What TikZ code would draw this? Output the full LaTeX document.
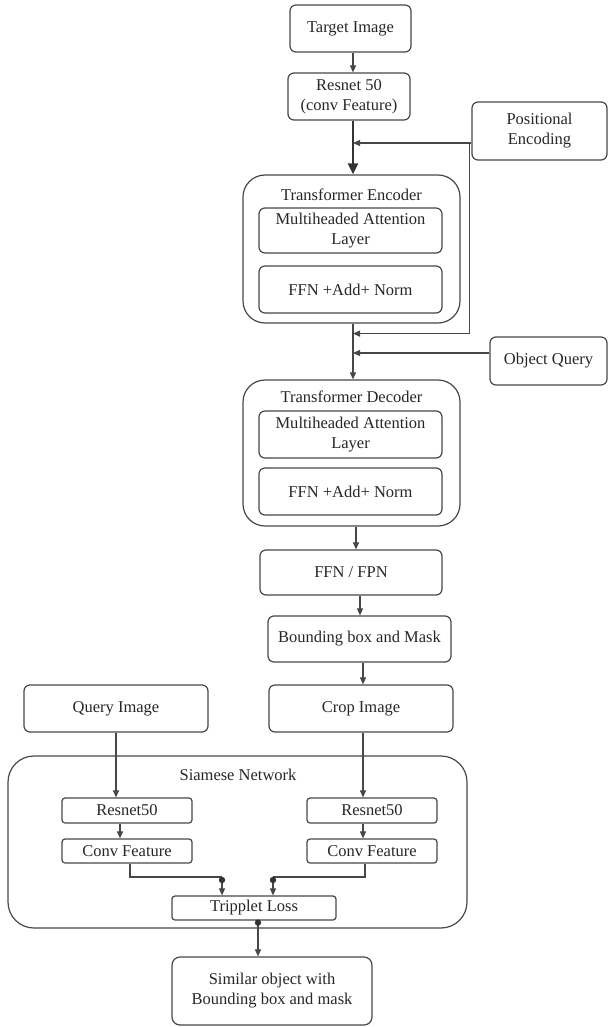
\documentclass[tikz,border=0pt]{standalone}
\usepackage{fontspec}
\setmainfont{Liberation Serif}
\usetikzlibrary{arrows.meta,calc}
\begin{document}
\begin{tikzpicture}[x=1pt,y=1pt,
  every node/.style={font=\fontsize{16.5}{20}\selectfont, text=black!85},
  box/.style={draw=black!72, line width=1.2pt, rounded corners=6pt, align=center, inner sep=0pt},
  outerbox/.style={draw=black!72, line width=1.2pt, rounded corners=22pt, inner sep=0pt},
  conn/.style={draw=black!72, line width=1.1pt},
  arr/.style={conn, -{Triangle[length=7pt,width=6pt]}},
  bigarr/.style={draw=black!80, line width=2.2pt, -{Triangle[length=11pt,width=10pt]}},
  dot/.style={fill=black!80}]
\useasboundingbox (0,0) rectangle (608,-1027);
% axis coordinates
\coordinate (ax) at (353,0);
\coordinate (a2) at (356,0);
\coordinate (a3) at (360,0);
\coordinate (a4) at (363,0);
\coordinate (b1) at (120,0);
% top chain
\node[box, minimum width=121, minimum height=47] (ti) at (350.5,-28.5) {Target Image};
\node[box, minimum width=122, minimum height=47] (rn) at (349,-96.5) {Resnet 50\\(conv Feature)};
\node[box, minimum width=135, minimum height=58] (pe) at (539.5,-131) {Positional\\Encoding};
% encoder
\node[outerbox, minimum width=217, minimum height=148] (enc) at (351.5,-249) {};
\node (enct) at (351.5,-195) {Transformer Encoder};
\node[box, minimum width=183, minimum height=45] (emha) at (350.5,-230.5) {Multiheaded Attention\\Layer};
\node[box, minimum width=183, minimum height=47] (effn) at (350.5,-289.5) {FFN +Add+ Norm};
% object query
\node[box, minimum width=117, minimum height=48] (oq) at (548.5,-361) {Object Query};
% decoder
\node[outerbox, minimum width=217, minimum height=146] (dec) at (351.5,-453) {};
\node (dect) at (351.5,-397) {Transformer Decoder};
\node[box, minimum width=183, minimum height=47] (dmha) at (350.5,-434.5) {Multiheaded Attention\\Layer};
\node[box, minimum width=183, minimum height=47] (dffn) at (350.5,-491.5) {FFN +Add+ Norm};
% heads
\node[box, minimum width=182, minimum height=45] (fpn) at (351,-572.5) {FFN / FPN};
\node[box, minimum width=183, minimum height=46] (bbm) at (359.5,-639) {Bounding box and Mask};
% images
\node[box, minimum width=184, minimum height=47] (qi) at (116,-708.5) {Query Image};
\node[box, minimum width=184, minimum height=47] (ci) at (361,-708.5) {Crop Image};
% siamese
\node[outerbox, rounded corners=26pt, minimum width=459, minimum height=172] (siam) at (237.5,-842) {};
\node (siamt) at (238,-775) {Siamese Network};
\node[box, rounded corners=3pt, minimum width=130, minimum height=25] (r1) at (127,-810.5) {Resnet50};
\node[box, rounded corners=3pt, minimum width=130, minimum height=24] (c1) at (127,-851) {Conv Feature};
\node[box, rounded corners=3pt, minimum width=130, minimum height=25] (r2) at (372,-810.5) {Resnet50};
\node[box, rounded corners=3pt, minimum width=130, minimum height=24] (c2) at (372,-851) {Conv Feature};
\node[box, rounded corners=3pt, minimum width=164, minimum height=24] (tl) at (254,-908) {Tripplet Loss};
\node[box, rounded corners=8pt, minimum width=200, minimum height=68] (so) at (272,-991) {Similar object with\\Bounding box and mask};
% connectors
\draw[arr] (ti.south -| ax) -- (rn.north -| ax);
\draw[bigarr] (rn.south -| ax) -- (enc.north -| ax);
\coordinate (pj) at ($(pe.west)+(0,-12)$);
\coordinate (pk) at ($(enc.south -| ax)+(0,-10)$);
\draw[arr] (pj) -- (pj -| ax);
\draw[arr] (pj) -| ($(pj)+(-2,0)$) |- (pk);
\coordinate (oj) at ($(oq.west)+(0,8)$);
\draw[arr] (oj) -- (oj -| ax);
\draw[arr] (enc.south -| ax) -- (dec.north -| ax);
\draw[arr] (dec.south -| a2) -- (fpn.north -| a2);
\draw[arr] (fpn.south -| a3) -- (bbm.north -| a3);
\draw[arr] (bbm.south -| a4) -- (ci.north -| a4);
\draw[arr] (qi.south) -- (qi.south |- r1.north);
\draw[arr] (ci.south -| a4) -- (r2.north -| a4);
\draw[arr] (r1.south -| b1) -- (c1.north -| b1);
\draw[arr] (r2.south -| a4) -- (c2.north -| a4);
\coordinate (m1) at (222,-877);
\coordinate (m2) at (273,-877);
\draw[conn] ($(c1.south)+(3,0)$) |- (m1);
\draw[conn] ($(c2.south)+(-7,0)$) |- (m2);
\draw[arr] (m1) -- (m1 |- tl.north);
\draw[arr] (m2) -- (m2 |- tl.north);
\fill[dot] ($(m1)+(0,-3)$) circle (3.2);
\fill[dot] ($(m2)+(0,-3)$) circle (3.2);
\coordinate (m3) at ($(tl.south)+(4,0)$);
\draw[arr] (m3) -- (m3 |- so.north);
\fill[dot] ($(m3)+(0,-2)$) circle (3.2);
\end{tikzpicture}
\end{document}
